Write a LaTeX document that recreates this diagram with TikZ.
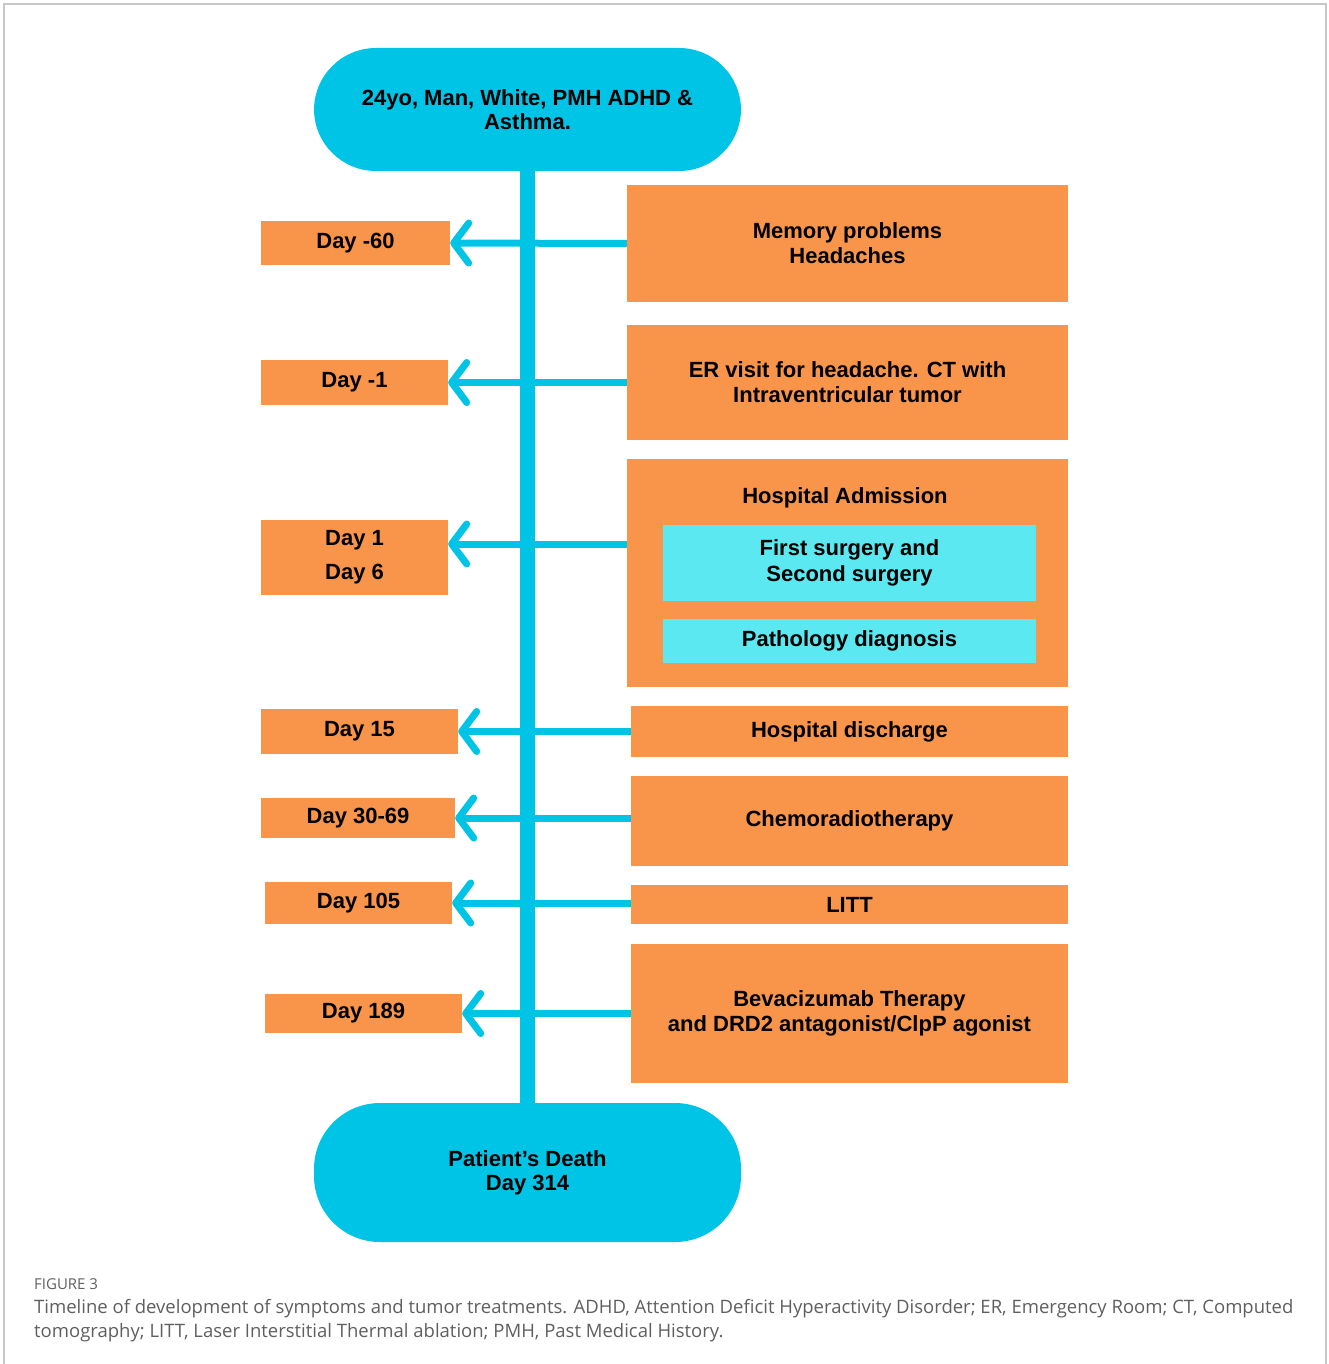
\documentclass[tikz,border=0pt]{standalone}
\usepackage{fontspec}
\setmainfont{Liberation Sans}
\newfontfamily\capfont{Open Sans}
\usetikzlibrary{arrows.meta}
\definecolor{orng}{RGB}{248,149,74}
\definecolor{cyn}{RGB}{0,196,230}
\definecolor{lcyn}{RGB}{92,232,240}
\definecolor{framegray}{RGB}{200,200,200}
\definecolor{captxt}{RGB}{95,95,95}
\begin{document}
\begin{tikzpicture}[x=1pt,y=-1pt,
  obox/.style={fill=orng, draw=none, inner sep=0pt, align=center, text=black,
    font=\fontsize{22}{25}\selectfont\bfseries},
  cbox/.style={fill=lcyn, draw=none, inner sep=0pt, align=center, text=black,
    font=\fontsize{22}{26}\selectfont\bfseries},
  pill/.style={fill=cyn, draw=none, rounded corners=62pt, inner sep=0pt, align=center,
    text=black, font=\fontsize{22}{24}\selectfont\bfseries},
  arr/.style={draw=cyn, line width=7pt,
    -{Straight Barb[length=15pt,width=40pt,round]}},
  txt/.style={inner sep=0pt, align=center, text=black, font=\fontsize{22}{25}\selectfont\bfseries}
]
\useasboundingbox (0,0) rectangle (1328,1364);
\draw[framegray, line width=1.5pt] (4,1364) -- (4,4) -- (1326,4) -- (1326,1364);

% pills
\node[pill, minimum width=427pt, minimum height=123pt] (top) at (527.5,109.5) {24yo, Man, White, PMH ADHD \&\\Asthma.};
\node[pill, minimum width=427pt, minimum height=139pt, rounded corners=66pt] (bot) at (527.5,1172.5) {Patient’s Death\\Day 314};

% vertical line
\draw[cyn, line width=15pt] (top.south) -- (bot.north);

% right boxes
\node[obox, minimum width=441pt, minimum height=117pt] (mem) at (847.5,243.5) {Memory problems\\Headaches};
\node[obox, minimum width=441pt, minimum height=115pt] (er) at (847.5,382.5) {ER visit for headache. CT with\\Intraventricular tumor};
\node[obox, minimum width=441pt, minimum height=228pt] (hosp) at (847.5,573) {};
\node[txt] (hosptitle) at (845,498) {Hospital Admission};
\node[cbox, minimum width=373pt, minimum height=76pt] (surg) at (849.5,563) {First surgery and\\Second surgery};
\node[cbox, minimum width=373pt, minimum height=44pt] (path) at (849.5,641) {Pathology diagnosis};
\node[obox, minimum width=437pt, minimum height=51pt] (dis) at (849.5,731.5) {Hospital discharge};
\node[obox, minimum width=437pt, minimum height=90pt] (chemo) at (849.5,821) {Chemoradiotherapy};
\node[obox, minimum width=437pt, minimum height=39pt] (litt) at (849.5,904.5) {LITT};
\node[obox, minimum width=437pt, minimum height=139pt] (bev) at (849.5,1013.5) {Bevacizumab Therapy\\and DRD2 antagonist/ClpP agonist};

% left boxes
\node[obox, minimum width=189pt, minimum height=44pt] (d60) at (355.5,243) {Day -60};
\node[obox, minimum width=187pt, minimum height=45pt] (dm1) at (354.5,382.5) {Day -1};
\node[obox, minimum width=187pt, minimum height=75pt, font=\fontsize{22}{34}\selectfont\bfseries] (d1) at (354.5,557.5) {Day 1\\Day 6};
\node[obox, minimum width=197pt, minimum height=45pt] (d15) at (359.5,731.5) {Day 15};
\node[obox, minimum width=194pt, minimum height=40pt] (d30) at (358,818) {Day 30-69};
\node[obox, minimum width=187pt, minimum height=42pt] (d105) at (358.5,903) {Day 105};
\node[obox, minimum width=197pt, minimum height=39pt] (d189) at (363.5,1013.5) {Day 189};

% arrows
\coordinate (a1) at (527.5,544);
\draw[arr] (mem.west) -- (d60.east);
\draw[arr] (er.west) -- (dm1.east);
\draw[arr] (hosp.west |- a1) -- (d1.east |- a1);
\draw[arr] (dis.west) -- (d15.east);
\draw[arr] (chemo.west |- d30.east) -- (d30.east);
\draw[arr] (litt.west |- d105.east) -- (d105.east);
\draw[arr] (bev.west) -- (d189.east);
\draw[cyn, line width=15pt] (top.south) -- (bot.north);

% caption
\node[anchor=base west, inner sep=0pt, text=captxt, font=\capfont\fontsize{15}{17}\selectfont] (fig) at (34,1289) {FIGURE 3};
\node[anchor=north west, inner sep=0pt, text=captxt, align=left, font=\capfont\fontsize{18.5}{24}\selectfont] (cap) at (34,1299) {Timeline of development of symptoms and tumor treatments. ADHD, Attention Deficit Hyperactivity Disorder; ER, Emergency Room; CT, Computed\\tomography; LITT, Laser Interstitial Thermal ablation; PMH, Past Medical History.};
\end{tikzpicture}
\end{document}
